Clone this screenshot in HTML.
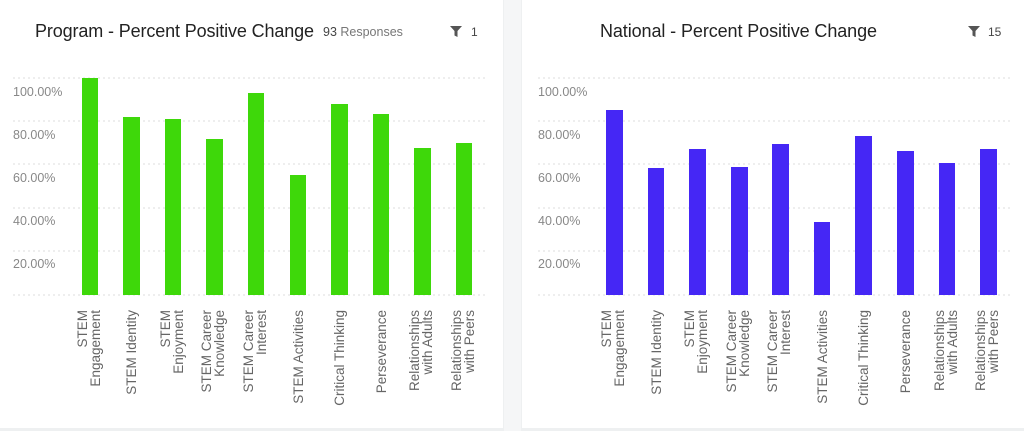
<!DOCTYPE html>
<html><head><meta charset="utf-8"><style>
html,body{margin:0;padding:0;background:#eef0f1;}
svg{display:block;}
</style></head><body>
<svg width="1024" height="431" viewBox="0 0 1024 431" xmlns="http://www.w3.org/2000/svg" font-family="Liberation Sans, sans-serif">
<rect x="0" y="0" width="1024" height="431" fill="#eef0f1"/>
<rect x="0" y="0" width="503" height="428" fill="#fff"/>
<rect x="522" y="0" width="502" height="428" fill="#fff"/>
<rect x="504" y="0" width="17" height="431" fill="#f5f6f7"/>

<!-- Left -->
<text x="35" y="37" font-size="18" fill="#222" textLength="279">Program - Percent Positive Change</text>
<text x="323" y="36" font-size="12.5" fill="#777"><tspan fill="#444">93</tspan> Responses</text>
<path d="M450 26 h12 l-4.5 5 v6 l-3 -1.5 v-4.5z" fill="#555"/>
<text x="471" y="36" font-size="12" fill="#444">1</text>
<g stroke="#ddd" stroke-width="1" stroke-dasharray="2,3">
<line x1="13" y1="78" x2="487" y2="78"/><line x1="13" y1="121" x2="487" y2="121"/><line x1="13" y1="164" x2="487" y2="164"/><line x1="13" y1="208" x2="487" y2="208"/><line x1="13" y1="251" x2="487" y2="251"/><line x1="13" y1="295" x2="487" y2="295"/>
</g>
<g font-size="12.5" fill="#888">
<text x="13" y="96">100.00%</text><text x="13" y="139">80.00%</text><text x="13" y="182">60.00%</text><text x="13" y="225">40.00%</text><text x="13" y="268">20.00%</text>
</g>
<g fill="#3ed80a">
<rect x="82" y="78" width="16" height="217"/><rect x="123" y="117" width="17" height="178"/><rect x="165" y="119" width="16" height="176"/><rect x="206" y="139" width="17" height="156"/><rect x="248" y="93" width="16" height="202"/><rect x="290" y="175" width="16" height="120"/><rect x="331" y="104" width="17" height="191"/><rect x="373" y="114" width="16" height="181"/><rect x="414" y="148" width="17" height="147"/><rect x="456" y="143" width="16" height="152"/>
</g>
<g font-size="13.5" fill="#666" text-anchor="end">
<text transform="translate(90,310) rotate(-90)"><tspan x="0" y="-3">STEM</tspan><tspan x="0" y="10">Engagement</tspan></text>
<text transform="translate(131,310) rotate(-90)"><tspan x="0" y="5">STEM Identity</tspan></text>
<text transform="translate(173,310) rotate(-90)"><tspan x="0" y="-3">STEM</tspan><tspan x="0" y="10">Enjoyment</tspan></text>
<text transform="translate(214,310) rotate(-90)"><tspan x="0" y="-3">STEM Career</tspan><tspan x="0" y="10">Knowledge</tspan></text>
<text transform="translate(256,310) rotate(-90)"><tspan x="0" y="-3">STEM Career</tspan><tspan x="0" y="10">Interest</tspan></text>
<text transform="translate(298,310) rotate(-90)"><tspan x="0" y="5">STEM Activities</tspan></text>
<text transform="translate(339,310) rotate(-90)"><tspan x="0" y="5">Critical Thinking</tspan></text>
<text transform="translate(381,310) rotate(-90)"><tspan x="0" y="5">Perseverance</tspan></text>
<text transform="translate(422,310) rotate(-90)"><tspan x="0" y="-3">Relationships</tspan><tspan x="0" y="10">with Adults</tspan></text>
<text transform="translate(464,310) rotate(-90)"><tspan x="0" y="-3">Relationships</tspan><tspan x="0" y="10">with Peers</tspan></text>
</g>

<!-- Right -->
<text x="600" y="37" font-size="18" fill="#222" textLength="277">National - Percent Positive Change</text>
<path d="M968 26 h12 l-4.5 5 v6 l-3 -1.5 v-4.5z" fill="#555"/>
<text x="988" y="36" font-size="12" fill="#444">15</text>
<g stroke="#ddd" stroke-width="1" stroke-dasharray="2,3">
<line x1="538" y1="78" x2="1012" y2="78"/><line x1="538" y1="121" x2="1012" y2="121"/><line x1="538" y1="164" x2="1012" y2="164"/><line x1="538" y1="208" x2="1012" y2="208"/><line x1="538" y1="251" x2="1012" y2="251"/><line x1="538" y1="295" x2="1012" y2="295"/>
</g>
<g font-size="12.5" fill="#888">
<text x="538" y="96">100.00%</text><text x="538" y="139">80.00%</text><text x="538" y="182">60.00%</text><text x="538" y="225">40.00%</text><text x="538" y="268">20.00%</text>
</g>
<g fill="#4527f5">
<rect x="606" y="110" width="17" height="185"/><rect x="648" y="168" width="16" height="127"/><rect x="689" y="149" width="17" height="146"/><rect x="731" y="167" width="17" height="128"/><rect x="772" y="144" width="17" height="151"/><rect x="814" y="222" width="16" height="73"/><rect x="855" y="136" width="17" height="159"/><rect x="897" y="151" width="17" height="144"/><rect x="939" y="163" width="16" height="132"/><rect x="980" y="149" width="17" height="146"/>
</g>
<g font-size="13.5" fill="#666" text-anchor="end">
<text transform="translate(614,310) rotate(-90)"><tspan x="0" y="-3">STEM</tspan><tspan x="0" y="10">Engagement</tspan></text>
<text transform="translate(656,310) rotate(-90)"><tspan x="0" y="5">STEM Identity</tspan></text>
<text transform="translate(697,310) rotate(-90)"><tspan x="0" y="-3">STEM</tspan><tspan x="0" y="10">Enjoyment</tspan></text>
<text transform="translate(739,310) rotate(-90)"><tspan x="0" y="-3">STEM Career</tspan><tspan x="0" y="10">Knowledge</tspan></text>
<text transform="translate(780,310) rotate(-90)"><tspan x="0" y="-3">STEM Career</tspan><tspan x="0" y="10">Interest</tspan></text>
<text transform="translate(822,310) rotate(-90)"><tspan x="0" y="5">STEM Activities</tspan></text>
<text transform="translate(863,310) rotate(-90)"><tspan x="0" y="5">Critical Thinking</tspan></text>
<text transform="translate(905,310) rotate(-90)"><tspan x="0" y="5">Perseverance</tspan></text>
<text transform="translate(947,310) rotate(-90)"><tspan x="0" y="-3">Relationships</tspan><tspan x="0" y="10">with Adults</tspan></text>
<text transform="translate(988,310) rotate(-90)"><tspan x="0" y="-3">Relationships</tspan><tspan x="0" y="10">with Peers</tspan></text>
</g>
</svg>
</body></html>
